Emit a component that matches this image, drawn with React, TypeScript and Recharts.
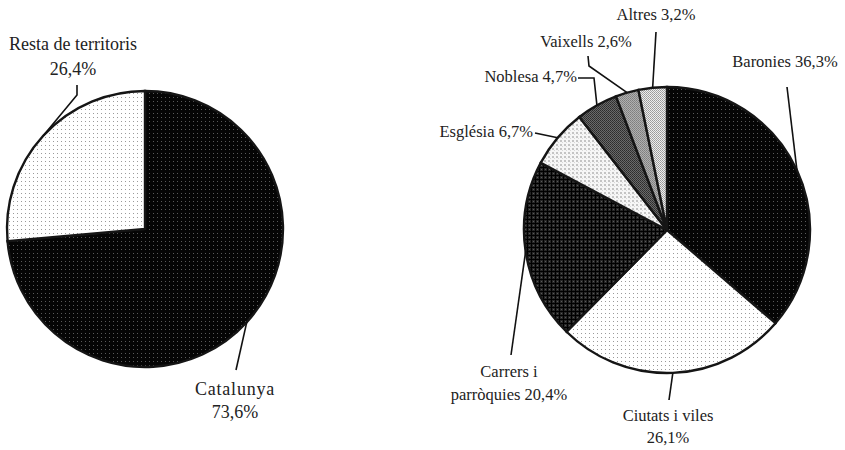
import React from 'react';
import { PieChart, Pie, Cell } from 'recharts';

// ---- Data ----
const leftNames = ['Catalunya', 'Resta de territoris'];
const leftValues = [73.6, 26.4];

const rightNames = ['Baronies', 'Ciutats i viles', 'Carrers i\nparròquies', 'Església', 'Noblesa', 'Vaixells', 'Altres'];
const rightValues = [36.3, 26.1, 20.4, 6.7, 4.7, 2.6, 3.2];

// ---- Styles / layout (not data) ----
const leftFills = ['url(#pBlack)', 'url(#pWhite)'];
const rightFills = ['url(#pBlack)', 'url(#pWhite)', 'url(#pDark)', 'url(#pLight)', 'url(#pNob)', 'url(#pGrey)', 'url(#pAlt)'];

type LabelLayout = {
  tx: number; // offset from pie center
  ty: number; // baseline of first line, offset from center
  anchor: 'start' | 'middle' | 'end';
  valueNewLine: boolean;
  path: [number, number][]; // leader points after the edge point, offsets from center
  lineGap: number;
  spacing: number;
};

const leftLayout: LabelLayout[] = [
  { tx: 90, ty: 166, anchor: 'middle', valueNewLine: true, path: [[91, 141]], lineGap: 23, spacing: 0.8 },
  { tx: -72, ty: -179, anchor: 'middle', valueNewLine: true, path: [[-68, -134], [-68, -144]], lineGap: 25, spacing: 0 },
];

const rightLayout: LabelLayout[] = [
  { tx: 118, ty: -163, anchor: 'middle', valueNewLine: false, path: [[120, -143]], lineGap: 22, spacing: 0 },
  { tx: 1, ty: 191, anchor: 'middle', valueNewLine: true, path: [[2, 170]], lineGap: 22, spacing: 0 },
  { tx: -158, ty: 147, anchor: 'middle', valueNewLine: false, path: [[-156, 125]], lineGap: 23, spacing: 0 },
  { tx: -134, ty: -93, anchor: 'end', valueNewLine: false, path: [[-132, -97]], lineGap: 22, spacing: 0 },
  { tx: -90, ty: -148, anchor: 'end', valueNewLine: false, path: [[-73, -152], [-89, -152]], lineGap: 22, spacing: 0 },
  { tx: -81, ty: -183, anchor: 'middle', valueNewLine: false, path: [[-78, -164], [-79, -174]], lineGap: 22, spacing: 0 },
  { tx: -11, ty: -210, anchor: 'middle', valueNewLine: false, path: [[-11, -198]], lineGap: 22, spacing: 0 },
];

const fmt = (v: number) => v.toFixed(1).replace('.', ',') + '%';

const RAD = Math.PI / 180;
const SERIF = '"Liberation Serif", "DejaVu Serif", "Times New Roman", serif';

const makeLabel = (layout: LabelLayout[], names: string[], values: number[], fontSize: number) =>
  (props: any) => {
    const { cx, cy, midAngle, outerRadius, index } = props;
    const L = layout[index];
    const ex = cx + outerRadius * Math.cos(-midAngle * RAD);
    const ey = cy + outerRadius * Math.sin(-midAngle * RAD);
    const pts = [[ex, ey], ...L.path.map(([x, y]) => [cx + x, cy + y])];
    const parts = names[index].split('\n');
    let lines: string[];
    if (L.valueNewLine) {
      lines = [...parts, fmt(values[index])];
    } else {
      lines = [...parts];
      lines[lines.length - 1] = lines[lines.length - 1] + ' ' + fmt(values[index]);
    }
    return (
      <g key={`lab-${index}`}>
        <polyline
          points={pts.map((p) => p.join(',')).join(' ')}
          fill="none"
          stroke="#111"
          strokeWidth={1.6}
        />
        <text
          x={cx + L.tx}
          y={cy + L.ty}
          textAnchor={L.anchor}
          style={{ fontFamily: SERIF, fontSize: fontSize, fill: '#222' }}
        >
          {lines.map((ln, i) => (
            <tspan
              key={i}
              x={cx + L.tx}
              dy={i === 0 ? 0 : L.lineGap}
              style={{ fontFamily: SERIF, letterSpacing: i === 0 ? L.spacing : 0 }}
            >
              {ln}
            </tspan>
          ))}
        </text>
      </g>
    );
  };

const leftData = leftNames.map((n, i) => ({ name: n, value: leftValues[i] }));
const rightData = rightNames.map((n, i) => ({ name: n, value: rightValues[i] }));

export default function App() {
  return (
    <div style={{ position: 'absolute', left: 0, top: 0, width: 845, height: 450, background: '#fff', fontFamily: SERIF }}>
      <PieChart width={845} height={450} margin={{ top: 0, right: 0, bottom: 0, left: 0 }} style={{ fontFamily: SERIF }}>
        <defs>
          <pattern id="pBlack" width="4" height="4" patternUnits="userSpaceOnUse">
            <rect width="4" height="4" fill="#050505" />
            <rect x="1" y="1" width="1" height="1" fill="#5a5a5a" />
          </pattern>
          <pattern id="pWhite" width="4" height="4" patternUnits="userSpaceOnUse">
            <rect width="4" height="4" fill="#ffffff" />
            <rect x="1" y="1" width="1" height="1" fill="#9a9a9a" />
          </pattern>
          <pattern id="pDark" width="4" height="4" patternUnits="userSpaceOnUse">
            <rect width="4" height="4" fill="#000000" />
            <rect x="0" y="0" width="3" height="3" fill="#262626" />
            <rect x="1" y="1" width="1" height="1" fill="#5a5a5a" />
          </pattern>
          <pattern id="pLight" width="4" height="4" patternUnits="userSpaceOnUse">
            <rect width="4" height="4" fill="#f6f6f6" />
            <rect x="0" y="0" width="2" height="2" fill="#c4c4c4" />
            <rect x="2" y="2" width="1" height="1" fill="#d8d8d8" />
          </pattern>
          <pattern id="pNob" width="2" height="2" patternUnits="userSpaceOnUse">
            <rect width="2" height="2" fill="#6a6a6a" />
            <rect x="0" y="0" width="1" height="1" fill="#2c2c2c" />
            <rect x="1" y="1" width="1" height="1" fill="#363636" />
          </pattern>
          <pattern id="pGrey" width="2" height="2" patternUnits="userSpaceOnUse">
            <rect width="2" height="2" fill="#b0b0b0" />
            <rect x="0" y="0" width="1" height="1" fill="#7e7e7e" />
            <rect x="1" y="1" width="1" height="1" fill="#888888" />
          </pattern>
          <pattern id="pAlt" width="2" height="2" patternUnits="userSpaceOnUse">
            <rect width="2" height="2" fill="#eeeeee" />
            <rect x="0" y="0" width="1" height="1" fill="#9a9a9a" />
            <rect x="1" y="1" width="1" height="1" fill="#a8a8a8" />
          </pattern>
        </defs>
        <Pie
          data={leftData}
          dataKey="value"
          nameKey="name"
          cx={145}
          cy={229}
          outerRadius={138}
          startAngle={90}
          endAngle={-270}
          stroke="#151515"
          strokeWidth={2.4}
          isAnimationActive={false}
          label={makeLabel(leftLayout, leftNames, leftValues, 18)}
          labelLine={false}
        >
          {leftData.map((d, i) => (
            <Cell key={d.name} fill={leftFills[i]} />
          ))}
        </Pie>
        <Pie
          data={rightData}
          dataKey="value"
          nameKey="name"
          cx={667}
          cy={230}
          outerRadius={143}
          startAngle={90}
          endAngle={-270}
          stroke="#151515"
          strokeWidth={2.4}
          isAnimationActive={false}
          label={makeLabel(rightLayout, rightNames, rightValues, 16.5)}
          labelLine={false}
        >
          {rightData.map((d, i) => (
            <Cell key={d.name} fill={rightFills[i]} />
          ))}
        </Pie>
      </PieChart>
    </div>
  );
}
